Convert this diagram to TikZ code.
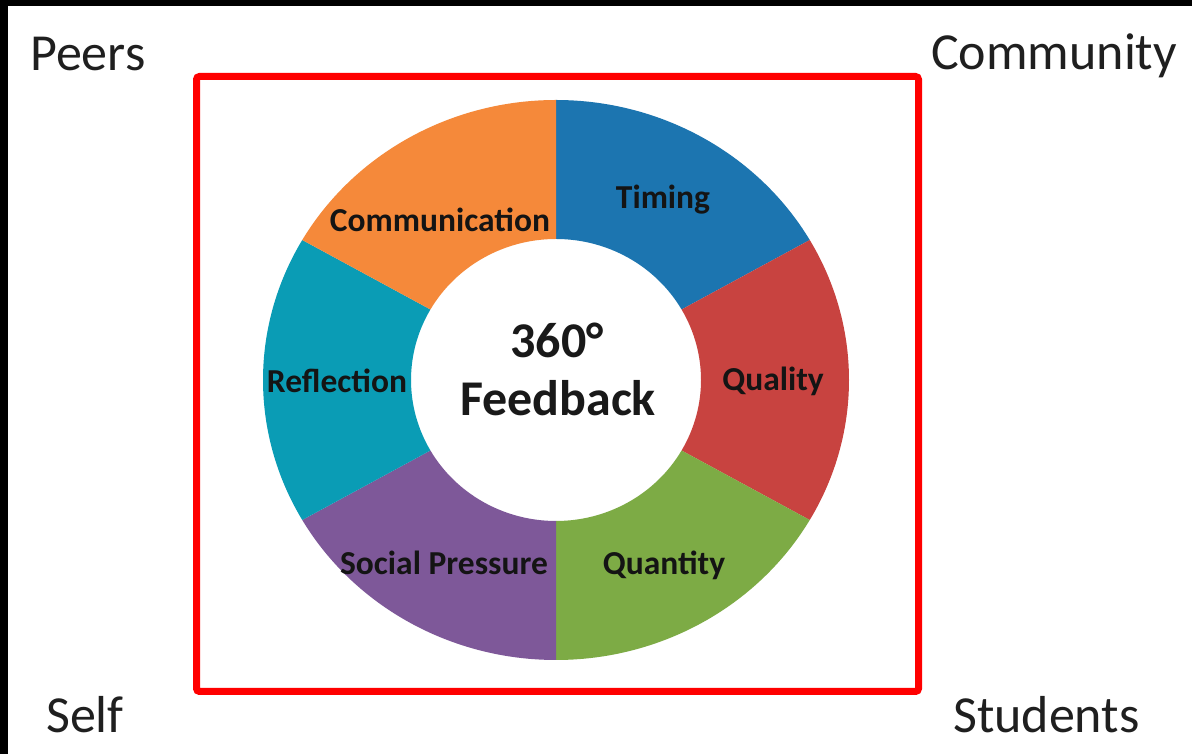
\documentclass[tikz,border=0pt]{standalone}
\usepackage{fontspec}
\setmainfont{Carlito}
\definecolor{cTiming}{HTML}{1C75B0}
\definecolor{cQuality}{HTML}{C84340}
\definecolor{cQuantity}{HTML}{7DAB45}
\definecolor{cSocial}{HTML}{7E5899}
\definecolor{cReflect}{HTML}{0A9CB5}
\definecolor{cComm}{HTML}{F5893A}
\definecolor{frameRed}{HTML}{FF0000}
\tikzset{
  corner/.style={inner sep=0pt, anchor=base west, font=\fontsize{52}{62}\selectfont, text=black!88},
  seglabel/.style={inner sep=0pt, font=\fontsize{33.5}{40}\selectfont\bfseries, text=black!92},
  centerlabel/.style={inner sep=0pt, font=\fontsize{50}{60}\selectfont\bfseries, text=black!90, align=center},
}
\newcommand{\ringsector}[3]{%
  \fill[#3] ({556+293*cos(#1)},{374+280*sin(#1)})
    arc[start angle=#1, end angle=#2, x radius=293, y radius=280]
    -- ({556+145*cos(#2)},{374+141*sin(#2)})
    arc[start angle=#2, end angle=#1, x radius=145, y radius=141]
    -- cycle;}
\begin{document}
\begin{tikzpicture}[x=1pt,y=1pt]
\useasboundingbox (0,0) rectangle (1192,754);
\fill[white] (0,0) rectangle (1192,754);
\fill[black] (0,748) rectangle (1192,754);
\fill[black] (0,0) rectangle (8,754);
% donut
\ringsector{90}{30}{cTiming}
\ringsector{30}{-30}{cQuality}
\ringsector{-30}{-90}{cQuantity}
\ringsector{-90}{-150}{cSocial}
\ringsector{-150}{-210}{cReflect}
\ringsector{150}{90}{cComm}
% red frame
\draw[frameRed, line width=7pt, rounded corners=3pt] (196.5,677.5) rectangle (918.5,62.5);
% labels
\node[seglabel] (timing) at (663,554) {Timing};
\node[seglabel] (quality) at (773,373) {Quality};
\node[seglabel] (quantity) at (664,189) {Quantity};
\node[seglabel] (social) at (444,191) {Social Pressure};
\node[seglabel] (reflection) at (337,373) {Reflection};
\node[seglabel] (comm) at (440,534) {Communication};
\node[centerlabel] (c360) at (557,414) {360°};
\node[centerlabel] (feedback) at (558,356) {Feedback};
% corner labels
\node[corner] (peers) at (30,683) {Peers};
\node[corner] (community) at (931,684) {Community};
\node[corner] (self) at (46,21) {Self};
\node[corner] (students) at (953,21) {Students};
\end{tikzpicture}
\end{document}
